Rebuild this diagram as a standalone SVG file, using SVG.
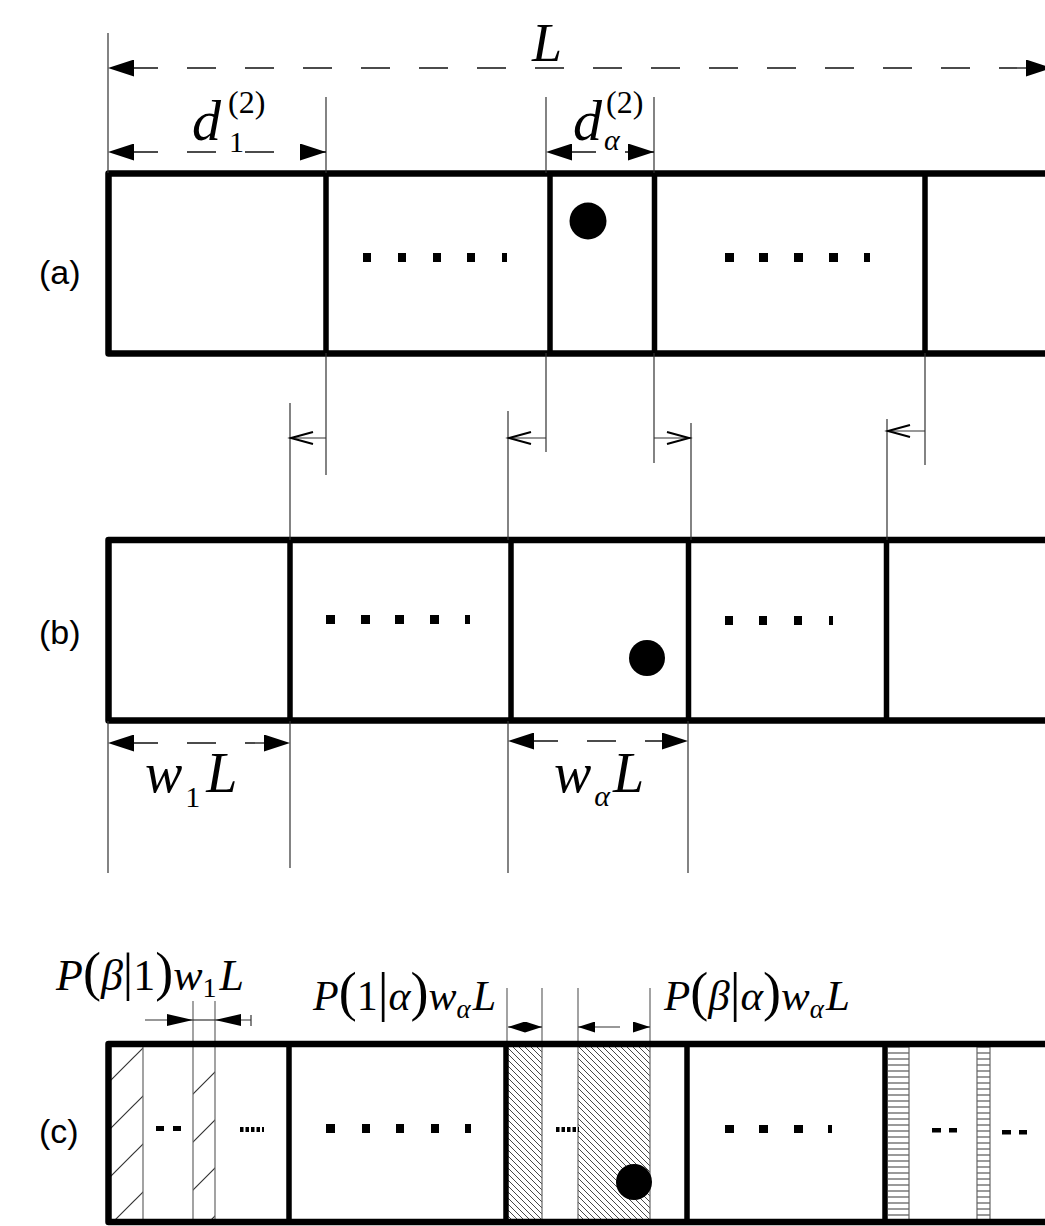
<svg xmlns="http://www.w3.org/2000/svg" width="1045" height="1226" viewBox="0 0 1045 1226">
<style>
.box{fill:none;stroke:#000;stroke-width:6.5;stroke-linejoin:round}
.div{stroke:#000;stroke-width:5.5;fill:none}
.thin{stroke:#333;stroke-width:1.2;fill:none}
.dash{stroke:#111;stroke-width:1.3;stroke-dasharray:29 29;stroke-dashoffset:37;fill:none}
.sl{stroke:#666;stroke-width:1.2;fill:none}
.chev{fill:none;stroke:#000;stroke-width:2}
.dot{stroke:#000;stroke-width:5;stroke-dasharray:3.5 2;fill:none}
.m{font-family:"Liberation Serif","Times New Roman",serif;font-style:italic;fill:#000}
.u{font-style:normal}
.lab{font-family:"Liberation Sans",Arial,sans-serif;font-size:34px;fill:#000}
</style>
<defs>
<marker id="ah" viewBox="0 0 26 17" refX="26" refY="8.5" markerWidth="26" markerHeight="17" markerUnits="userSpaceOnUse" orient="auto-start-reverse"><path d="M0,0L26,8.5L0,17z" fill="#000"/></marker>
<marker id="ac" viewBox="0 0 26 12" refX="26" refY="6" markerWidth="26" markerHeight="12" markerUnits="userSpaceOnUse" orient="auto-start-reverse"><path d="M0,0L26,6L0,12z" fill="#000"/></marker>
<marker id="as" viewBox="0 0 17 11" refX="17" refY="5.5" markerWidth="17" markerHeight="11" markerUnits="userSpaceOnUse" orient="auto-start-reverse"><path d="M0,0L17,5.5L0,11z" fill="#000"/></marker>
<pattern id="h1" patternUnits="userSpaceOnUse" x="39" y="0" width="48" height="48"><path d="M0,48L48,0M-4,4L4,-4M44,52L52,44" stroke="#333" stroke-width="1.2"/></pattern>
<pattern id="h2" patternUnits="userSpaceOnUse" width="6" height="6"><path d="M0,0L6,6M-1,5L1,7M5,-1L7,1" stroke="#333" stroke-width="0.9"/></pattern>
<pattern id="h3" patternUnits="userSpaceOnUse" width="6" height="6"><path d="M0,3H6" stroke="#555" stroke-width="1.2"/></pattern>
</defs>
<rect width="1045" height="1226" fill="#fff"/>

<g id="row-a">
<path class="box" d="M1052,173.5H108.5V353.5H1052"/>
<path class="div" d="M326,173.5V353.5M550,173.5V353.5M654.5,173.5V353.5M925,173.5V353.5"/>
<circle cx="588" cy="221" r="18.5" fill="#000"/>
<g fill="#000">
<rect x="363" y="253" width="8" height="9"/><rect x="398" y="253" width="8" height="9"/><rect x="433" y="253" width="8" height="9"/><rect x="467" y="253" width="8" height="9"/><rect x="502" y="253" width="5" height="9"/>
<rect x="725" y="253" width="9" height="9"/><rect x="759" y="253" width="9" height="9"/><rect x="794" y="253" width="9" height="9"/><rect x="829" y="253" width="9" height="9"/><rect x="864" y="253" width="6" height="9"/>
</g>
</g>

<g id="row-b">
<path class="box" d="M1052,540H108.5V720.5H1052"/>
<path class="div" d="M290,540V720.5M511,540V720.5M688.5,540V720.5M886.5,540V720.5"/>
<circle cx="647" cy="658" r="18" fill="#000"/>
<g fill="#000">
<rect x="326" y="615" width="9" height="9"/><rect x="361" y="615" width="9" height="9"/><rect x="395" y="615" width="9" height="9"/><rect x="430" y="615" width="9" height="9"/><rect x="465" y="615" width="5" height="9"/>
<rect x="725" y="616" width="8" height="9"/><rect x="759" y="616" width="8" height="9"/><rect x="794" y="616" width="8" height="9"/><rect x="829" y="616" width="4" height="9"/>
</g>
</g>

<g id="row-c">
<rect x="109" y="1044" width="34" height="178" fill="url(#h1)"/>
<rect x="193" y="1044" width="22" height="178" fill="url(#h1)"/>
<rect x="508" y="1044" width="34" height="178" fill="url(#h2)"/>
<rect x="578" y="1044" width="72" height="178" fill="url(#h2)"/>
<rect x="888" y="1044" width="21" height="178" fill="url(#h3)"/>
<rect x="977" y="1044" width="13" height="178" fill="url(#h3)"/>
<path class="sl" d="M143,1044V1222M193,1001V1222M215,1001V1222M542,988V1222M578,988V1222M650,988V1222M909,1044V1222M977,1044V1222M990,1044V1222M507,988V1044"/>
<path class="box" d="M1052,1044H108.5V1222H1052"/>
<path class="div" d="M289,1044V1222M506,1044V1222M687,1044V1222M885,1044V1222"/>
<circle cx="634" cy="1182" r="18" fill="#000"/>
<g fill="#000">
<rect x="156" y="1126" width="8" height="5"/><rect x="173" y="1126" width="8" height="5"/>
<rect x="326" y="1124" width="9" height="9"/><rect x="362" y="1124" width="8" height="9"/><rect x="396" y="1124" width="8" height="9"/><rect x="431" y="1124" width="8" height="9"/><rect x="465" y="1124" width="6" height="9"/>
<rect x="725" y="1125" width="9" height="8"/><rect x="759" y="1125" width="9" height="8"/><rect x="794" y="1125" width="9" height="8"/><rect x="828" y="1125" width="4" height="8"/>
<rect x="932" y="1128" width="9" height="4.5"/><rect x="949" y="1128" width="8" height="4.5"/>
<rect x="1002" y="1130" width="9" height="4.5"/><rect x="1019" y="1130" width="8" height="4.5"/>
</g>
<path class="dot" d="M240,1129.5H264M556,1129.5H579"/>
</g>

<g id="connectors">
<path class="thin" d="M108,33V173M326,97V173M546,97V173M654,97V173"/>
<path class="dash" d="M108,68H1052" marker-start="url(#ah)" marker-end="url(#ah)"/>
<path class="dash" d="M108,152H326" marker-start="url(#ah)" marker-end="url(#ah)"/>
<path class="dash" d="M546,152H654" marker-start="url(#ah)" marker-end="url(#ah)"/>
<path class="thin" d="M326,353V475M290,403V540M546,353V452M508,411V540M654,353V463M691,423V540M925,353V465M887,419V540"/>
<path class="thin" d="M290,438H326M508,438H546M654,438H691M887,431H925"/>
<path class="chev" d="M313,432L291,438L313,444M531,432L509,438L531,444M667,432L689,438L667,444M910,425L888,431L910,437"/>
<path class="thin" d="M108,721V873M290,721V868M508,721V873M688,721V873"/>
<path class="dash" d="M108,743H290" marker-start="url(#ah)" marker-end="url(#ah)"/>
<path class="dash" d="M508,741H688" marker-start="url(#ah)" marker-end="url(#ah)"/>
<path class="thin" d="M145,1020H193" marker-end="url(#ac)"/>
<path class="thin" d="M193,1020H215"/>
<path class="thin" d="M251,1020H215" marker-end="url(#ac)"/>
<path class="thin" d="M251,1015V1026"/>
<path class="thin" d="M525,1027H508" marker-end="url(#as)"/>
<path class="thin" d="M525,1027H542" marker-end="url(#as)"/>
<path class="thin" d="M620,1027H578" marker-end="url(#as)"/>
<path class="thin" d="M633,1027H650" marker-end="url(#as)"/>
</g>

<g id="label-a"><text class="lab" x="39" y="284">(a)</text></g>
<g id="label-b"><text class="lab" x="39" y="644">(b)</text></g>
<g id="label-c"><text class="lab" x="39" y="1143">(c)</text></g>

<g id="label-L"><text class="m" x="532" y="61" font-size="54">L</text></g>
<g id="label-d1"><text class="m" x="192" y="140" font-size="58">d<tspan class="u" font-size="32" dy="-27" dx="7">(2)</tspan></text><text class="m u" x="229" y="152" font-size="30">1</text></g>
<g id="label-da"><text class="m" x="573" y="140" font-size="58">d<tspan class="u" font-size="32" dy="-27" dx="4">(2)</tspan></text><text class="m" x="604" y="150" font-size="30">α</text></g>
<g id="label-w1L"><text class="m" x="145" y="792" font-size="56">w<tspan class="u" font-size="30" dy="15" dx="3">1</tspan><tspan font-size="56" dy="-15" dx="6">L</tspan></text></g>
<g id="label-waL"><text class="m" x="554" y="792" font-size="56">w<tspan font-size="30" dy="14" dx="3">α</tspan><tspan font-size="56" dy="-14" dx="3">L</tspan></text></g>
<g id="label-Pb1"><text class="m" x="56" y="990" font-size="44">P<tspan class="u" font-size="54">(</tspan>β<tspan class="u" font-size="52">|</tspan><tspan class="u">1</tspan><tspan class="u" font-size="54">)</tspan>w<tspan class="u" font-size="28" dy="7">1</tspan><tspan dx="3" dy="-7">L</tspan></text></g>
<g id="label-P1a"><text class="m" x="313" y="1010" font-size="42">P<tspan class="u" font-size="54">(</tspan><tspan class="u">1</tspan><tspan class="u" font-size="54">|</tspan>α<tspan class="u" font-size="54">)</tspan>w<tspan font-size="27" dy="8">α</tspan><tspan dx="2" dy="-8">L</tspan></text></g>
<g id="label-Pba"><text class="m" x="664" y="1010" font-size="43">P<tspan class="u" font-size="54">(</tspan>β<tspan class="u" font-size="54">|</tspan>α<tspan class="u" font-size="54">)</tspan>w<tspan font-size="27" dy="8">α</tspan><tspan dx="2" dy="-8">L</tspan></text></g>
</svg>
